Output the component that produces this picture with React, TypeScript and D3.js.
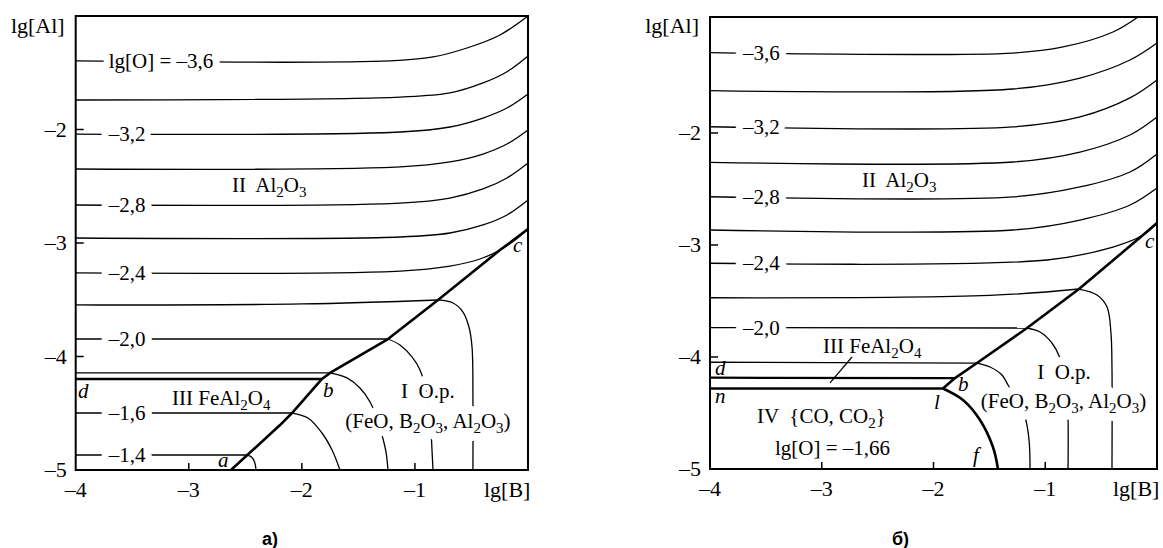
import React from 'react';
import * as d3 from 'd3';

type Pt = [number, number];

// axis ticks (lg[B] along x, lg[Al] along y)
const xTicks = [-4, -3, -2, -1];
const xTickText = ['–4', '–3', '–2', '–1'];
const yTicks = [-2, -3, -4, -5];
const yTickText = ['–2', '–3', '–4', '–5'];

// ---- panel а) ----
// lg[O] isolines, from the left edge up to the boundary (regions II and III)
const isoA: Pt[][] = [
  [[-4, -1.396], [-1.22, -1.396], [-0.84, -1.361], [-0.54, -1.282], [-0.248, -1.167], [0, -1.0]],
  [[-4, -1.74], [-1.13, -1.714], [-0.69, -1.678], [-0.398, -1.59], [-0.186, -1.491], [0, -1.352]],
  [[-4, -2.04], [-1.13, -2.022], [-0.69, -1.978], [-0.398, -1.899], [-0.186, -1.811], [0, -1.687]],
  [[-4, -2.348], [-1.13, -2.33], [-0.69, -2.286], [-0.398, -2.216], [-0.186, -2.128], [0, -2.004]],
  [[-4, -2.665], [-1.13, -2.648], [-0.69, -2.604], [-0.398, -2.524], [-0.186, -2.427], [0, -2.295]],
  [[-4, -2.956], [-1.13, -2.947], [-0.69, -2.912], [-0.398, -2.841], [-0.186, -2.753], [0, -2.621]],
  [[-4, -3.264], [-1.13, -3.247], [-0.69, -3.203], [-0.425, -3.141], [-0.248, -3.062], [-0.115, -2.974], [0, -2.877]],
  [[-4, -3.546], [-2.0, -3.537], [-0.796, -3.502]],
  [[-4, -3.846], [-1.238, -3.846]],
  [[-4, -4.145], [-1.751, -4.145]],
  [[-4, -4.498], [-2.087, -4.498]],
  [[-4, -4.868], [-2.48, -4.868]],
];
// same isolines inside region I (oxide melt)
const isoIA: Pt[][] = [
  [[-0.796, -3.502], [-0.663, -3.529], [-0.575, -3.608], [-0.522, -3.74], [-0.495, -3.916], [-0.487, -4.357], [-0.487, -5]],
  [[-1.238, -3.846], [-1.132, -3.899], [-1.026, -4.004], [-0.955, -4.119], [-0.902, -4.295], [-0.876, -4.471], [-0.858, -4.648], [-0.849, -4.824], [-0.84, -5]],
  [[-1.751, -4.145], [-1.601, -4.189], [-1.486, -4.278], [-1.397, -4.401], [-1.336, -4.542], [-1.291, -4.692], [-1.256, -4.841], [-1.238, -5]],
  [[-2.087, -4.498], [-1.946, -4.542], [-1.822, -4.674], [-1.733, -4.824], [-1.663, -5]],
  [[-2.48, -4.868], [-2.445, -4.886], [-2.418, -4.93], [-2.405, -5]],
];
const boundaryA: Pt[] = [[-2.627, -5], [-2.193, -4.604], [-2.087, -4.498], [-1.822, -4.198], [-1.751, -4.145], [-1.238, -3.846], [-0.796, -3.502], [-0.248, -3.062], [0, -2.877]];
const lineDA: Pt[] = [[-4, -4.198], [-1.822, -4.198]];
const isoLabelIdxA = [0, 2, 4, 6, 8, 10, 11];
const isoLabelTextA = ['lg[O] = –3,6', '–3,2', '–2,8', '–2,4', '–2,0', '–1,6', '–1,4'];

// ---- panel б) ----
const isoB: Pt[][] = [
  [[-4, -1.283], [-1.289, -1.286], [-0.841, -1.232], [-0.394, -1.098], [-0.17, -0.964]],
  [[-4, -1.622], [-1.289, -1.607], [-0.689, -1.509], [-0.242, -1.348], [0, -1.196]],
  [[-4, -1.944], [-1.289, -1.946], [-0.689, -1.857], [-0.242, -1.687], [0, -1.527]],
  [[-4, -2.262], [-1.289, -2.259], [-0.689, -2.17], [-0.242, -2.018], [0, -1.857]],
  [[-4, -2.569], [-1.289, -2.571], [-0.689, -2.482], [-0.242, -2.348], [0, -2.187]],
  [[-4, -2.866], [-1.289, -2.866], [-0.689, -2.777], [-0.242, -2.643], [0, -2.491]],
  [[-4, -3.163], [-0.984, -3.134], [-0.394, -3.018], [-0.125, -2.911], [0, -2.804]],
  [[-4, -3.471], [-1.5, -3.45], [-0.698, -3.393]],
  [[-4, -3.738], [-1.163, -3.741]],
  [[-4, -4.047], [-1.611, -4.054]],
];
const isoIB: Pt[][] = [
  [[-0.698, -3.393], [-0.537, -3.446], [-0.447, -3.554], [-0.412, -3.786], [-0.403, -4.089], [-0.403, -5]],
  [[-1.163, -3.741], [-1.047, -3.777], [-0.94, -3.875], [-0.868, -4.009], [-0.832, -4.161], [-0.805, -4.339], [-0.796, -4.536], [-0.796, -5]],
  [[-1.611, -4.054], [-1.494, -4.089], [-1.387, -4.161], [-1.333, -4.25], [-1.262, -4.366], [-1.181, -4.536], [-1.145, -4.741], [-1.136, -5]],
];
const boundaryB: Pt[] = [[-1.915, -4.281], [-1.808, -4.188], [-1.611, -4.054], [-1.163, -3.741], [-0.698, -3.393], [-0.125, -2.911], [0, -2.804]];
const lineDB: Pt[] = [[-4, -4.185], [-1.808, -4.188]];
const lineNB: Pt[] = [[-4, -4.281], [-1.915, -4.281]];
const curveLFB: Pt[] = [[-1.915, -4.281], [-1.736, -4.384], [-1.584, -4.5625], [-1.468, -4.804], [-1.423, -5]];
const leaderB: Pt[] = [[-2.729, -4.0], [-2.926, -4.232]];
const isoLabelIdxB = [0, 2, 4, 6, 8];
const isoLabelTextB = ['–3,6', '–3,2', '–2,8', '–2,4', '–2,0'];

type Note = { t: string; at: Pt; mid?: boolean; halo?: boolean; it?: boolean };

const notesA: Note[] = [
  { t: 'II  Al_2O_3', at: [-2.618, -2.551] },
  { t: 'III FeAl_2O_4', at: [-3.148, -4.427] },
  { t: 'I  O.p.', at: [-0.885, -4.366], mid: true, halo: true },
  { t: '(FeO, B_2O_3, Al_2O_3)', at: [-0.885, -4.63], mid: true, halo: true },
  { t: 'd', at: [-3.98, -4.366], it: true },
  { t: 'a', at: [-2.742, -4.974], it: true },
  { t: 'b', at: [-1.813, -4.357], it: true },
  { t: 'c', at: [-0.133, -3.079], it: true },
];
const notesB: Note[] = [
  { t: 'II  Al_2O_3', at: [-2.64, -2.482] },
  { t: 'III FeAl_2O_4', at: [-2.989, -3.964] },
  { t: 'IV  {CO, CO_2}', at: [-3.579, -4.589] },
  { t: 'lg[O] = –1,66', at: [-3.418, -4.875] },
  { t: 'I  O.p.', at: [-0.832, -4.196], mid: true, halo: true },
  { t: '(FeO, B_2O_3, Al_2O_3)', at: [-0.837, -4.455], mid: true, halo: true },
  { t: 'd', at: [-3.955, -4.161], it: true },
  { t: 'n', at: [-3.955, -4.411], it: true },
  { t: 'l', at: [-1.996, -4.464], it: true },
  { t: 'b', at: [-1.781, -4.304], it: true },
  { t: 'f', at: [-1.647, -4.9375], it: true },
  { t: 'c', at: [-0.107, -3.027], it: true },
];

const SERIF = '"Liberation Serif", "Times New Roman", serif';

const Rich = ({ text }: { text: string }) => {
  const parts = text.split(/(_\d)/).filter((s) => s !== '');
  let down = false;
  return (
    <>
      {parts.map((p, i) => {
        if (p.startsWith('_')) {
          const el = <tspan key={i} dy={down ? 0 : 5} fontSize={15}>{p.slice(1)}</tspan>;
          down = true;
          return el;
        }
        const el = <tspan key={i} dy={down ? -5 : 0}>{p}</tspan>;
        down = false;
        return el;
      })}
    </>
  );
};

type Geo = { left: number; right: number; bottom: number; top: number; frameTop: number };

const Panel = ({ g, iso, isoI, labelIdx, labelText, heavy, notes, leader }: {
  g: Geo; iso: Pt[][]; isoI: Pt[][]; labelIdx: number[]; labelText: string[];
  heavy: { pts: Pt[]; w: number; smooth?: boolean }[]; notes: Note[]; leader?: Pt[];
}) => {
  const x = d3.scaleLinear().domain([-4, 0]).range([g.left, g.right]);
  const y = d3.scaleLinear().domain([-5, -1]).range([g.bottom, g.top]);
  const smooth = d3.line<Pt>().x((d) => x(d[0])).y((d) => y(d[1])).curve(d3.curveCatmullRom.alpha(0.5));
  const straight = d3.line<Pt>().x((d) => x(d[0])).y((d) => y(d[1]));

  const noteText = (n: Note, i: number, halo: boolean) => (
    <text key={(halo ? 'nh' : 'n') + i} x={x(n.at[0])} y={y(n.at[1])} fontSize={21}
      textAnchor={n.mid ? 'middle' : 'start'} fontStyle={n.it ? 'italic' : 'normal'}
      fill={halo ? '#fff' : '#000'} stroke={halo ? '#fff' : 'none'} strokeWidth={halo ? 16 : 0}
      strokeLinejoin="round" style={{ whiteSpace: 'pre' }}>
      <Rich text={n.t} />
    </text>
  );

  return (
    <g fontFamily={SERIF} fill="#000">
      {iso.concat(isoI).map((p, i) => (
        <path key={'i' + i} d={smooth(p) || ''} fill="none" stroke="#000" strokeWidth={1.3} />
      ))}
      {leader && <path d={straight(leader) || ''} stroke="#000" strokeWidth={1.2} />}
      {labelIdx.map((k, i) => (
        <text key={'l' + i} x={g.left + 33} y={y(iso[k][0][1])} dy="0.33em" fontSize={21}
          stroke="#fff" strokeWidth={14} strokeLinejoin="round" paintOrder="stroke" style={{ whiteSpace: 'pre' }}>
          {labelText[i]}
        </text>
      ))}
      {notes.filter((n) => n.halo).map((n, i) => noteText(n, i, true))}
      {notes.map((n, i) => noteText(n, i, false))}
      {heavy.map((h, i) => (
        <path key={'h' + i} d={(h.smooth ? smooth(h.pts) : straight(h.pts)) || ''} fill="none"
          stroke="#000" strokeWidth={h.w} strokeLinejoin="round" />
      ))}
      <rect x={g.left} y={g.frameTop} width={g.right - g.left} height={g.bottom - g.frameTop}
        fill="none" stroke="#000" strokeWidth={2} />
      {xTicks.slice(1).map((t) => (
        <line key={'xt' + t} x1={x(t)} x2={x(t)} y1={g.bottom} y2={g.bottom - 7} stroke="#000" strokeWidth={1.5} />
      ))}
      {yTicks.slice(0, 3).map((t) => (
        <line key={'yt' + t} x1={g.left} x2={g.left + 8} y1={y(t)} y2={y(t)} stroke="#000" strokeWidth={1.5} />
      ))}
      {xTicks.map((t, i) => (
        <text key={'xl' + t} x={x(t)} y={g.bottom + 27} fontSize={22} textAnchor="middle">{xTickText[i]}</text>
      ))}
      {yTicks.map((t, i) => (
        <text key={'yl' + t} x={g.left - 9} y={y(t)} dy="0.33em" fontSize={22} textAnchor="end">{yTickText[i]}</text>
      ))}
      <text x={g.right - 44} y={g.bottom + 27} fontSize={22}>lg[B]</text>
      <text x={g.left - 11} y={33} fontSize={22} textAnchor="end">lg[Al]</text>
    </g>
  );
};

export default function App() {
  const geoA: Geo = { left: 75.7, right: 528, bottom: 470, top: 16, frameTop: 16 };
  const geoB: Geo = { left: 710, right: 1157, bottom: 469, top: 21, frameTop: 17 };
  return (
    <svg width={1163} height={548} style={{ position: 'absolute', left: 0, top: 0, background: '#fff' }}>
      <rect width={1163} height={548} fill="#fff" />
      <Panel g={geoA} iso={isoA} isoI={isoIA} labelIdx={isoLabelIdxA} labelText={isoLabelTextA}
        heavy={[{ pts: lineDA, w: 2.6 }, { pts: boundaryA, w: 2.6 }]} notes={notesA} />
      <Panel g={geoB} iso={isoB} isoI={isoIB} labelIdx={isoLabelIdxB} labelText={isoLabelTextB}
        heavy={[{ pts: lineDB, w: 2.2 }, { pts: lineNB, w: 2.6 }, { pts: boundaryB, w: 2.6 }, { pts: curveLFB, w: 2.6, smooth: true }]}
        notes={notesB} leader={leaderB} />
      <text x={262} y={545} fontFamily='"Liberation Sans", Arial, sans-serif' fontWeight="bold" fontSize={18}>а)</text>
      <text x={892} y={545} fontFamily='"Liberation Sans", Arial, sans-serif' fontWeight="bold" fontSize={18}>б)</text>
    </svg>
  );
}
